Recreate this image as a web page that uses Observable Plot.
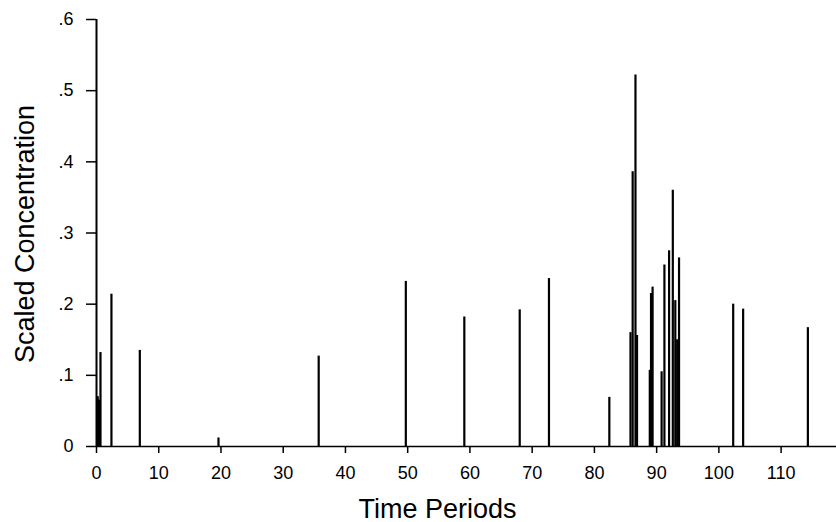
<!DOCTYPE html>
<html>
<head>
<meta charset="utf-8">
<script src="https://cdn.jsdelivr.net/npm/d3@7"></script>
<script src="https://cdn.jsdelivr.net/npm/@observablehq/plot@0.6"></script>
<style>
  html, body { margin: 0; padding: 0; background: #fff; }
  #chart svg { display: block; font-family: "Liberation Sans", Arial, Helvetica, sans-serif; }
</style>
</head>
<body>
<div id="chart"></div>
<script>
// Spike positions (time periods) and heights (scaled concentration)
const times  = [0.2, 0.4, 0.64, 2.4, 6.96, 19.6, 35.7, 49.7, 59.1, 68.0, 72.7, 82.4,
                85.8, 86.15, 86.6, 86.85, 88.9, 89.1, 89.35, 90.8, 91.25, 92.0, 92.6,
                93.0, 93.3, 93.6, 102.3, 103.9, 114.3];
const values = [0.07, 0.065, 0.132, 0.214, 0.135, 0.012, 0.127, 0.232, 0.182, 0.192, 0.236, 0.069,
                0.16, 0.386, 0.522, 0.156, 0.107, 0.215, 0.224, 0.105, 0.255, 0.275, 0.36,
                0.205, 0.15, 0.265, 0.2, 0.193, 0.167];
const xTicks = [0, 10, 20, 30, 40, 50, 60, 70, 80, 90, 100, 110];
const yTicks = [0, 0.1, 0.2, 0.3, 0.4, 0.5, 0.6];
const xTitle = "Time Periods";
const yTitle = "Scaled Concentration";

const data = times.map((t, i) => ({t, v: values[i]}));
const fmtY = v => v === 0 ? "0" : d3.format(".1f")(v).replace(/^0/, "");

const chart = Plot.plot({
  width: 836,
  height: 522,
  marginLeft: 96,
  marginRight: 0,
  marginTop: 19,
  marginBottom: 76,
  style: {fontSize: "18px", fontFamily: "'Liberation Sans', Arial, Helvetica, sans-serif", color: "#000", background: "#fff"},
  x: {domain: [0, 118.9]},
  y: {domain: [0, 0.6]},
  marks: [
    Plot.ruleY([0], {stroke: "#000", strokeWidth: 1.6}),
    Plot.ruleX([0], {y1: 0, y2: 0.6, stroke: "#000", strokeWidth: 2}),
    Plot.ruleX(data, {x: "t", y1: 0, y2: "v", stroke: "#000", strokeWidth: 2.2}),
    Plot.axisY({ticks: yTicks, tickFormat: fmtY, tickSize: 10, tickPadding: 13, label: null, strokeWidth: 1.5, fontSize: 18}),
    Plot.axisX({ticks: xTicks, tickFormat: d => String(d), tickSize: 7, tickPadding: 13, label: null, strokeWidth: 1.5, fontSize: 18}),
    Plot.text([xTitle], {frameAnchor: "bottom", dx: -29, dy: 71, lineAnchor: "bottom", textAnchor: "middle", fontSize: 27, fill: "#000"}),
    Plot.text([yTitle], {frameAnchor: "left", dx: -63, dy: 1, rotate: -90, lineAnchor: "bottom", textAnchor: "middle", fontSize: 27, fill: "#000"})
  ]
});
document.getElementById("chart").appendChild(chart);
</script>
</body>
</html>
